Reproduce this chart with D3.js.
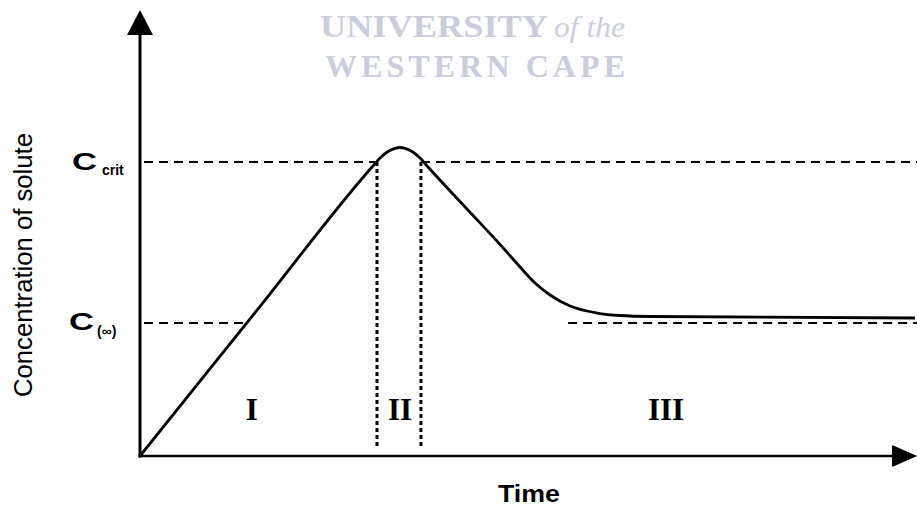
<!DOCTYPE html>
<html>
<head>
<meta charset="utf-8">
<script src="https://cdn.jsdelivr.net/npm/d3@7"></script>
<style>
  html, body { margin: 0; padding: 0; background: #fff; }
  svg { display: block; }
</style>
</head>
<body>
<svg id="chart" width="917" height="508"></svg>
<script>
// Concentration profile: rise, nucleation burst, then decay to the solubility level
const profileTime = [0, 14.93, 29.86, 30.89, 31.92, 32.82, 33.46, 34.11, 35.01, 36.04, 37.07,
                     41.96, 46.98, 48.91, 50.84, 52.77, 55.34, 58.82, 61.78, 65.64, 99.74];
const profileConc = [0, 32.40, 64.80, 66.82, 68.27, 68.99, 69.17, 68.99, 68.27, 66.82, 64.80,
                     55.61, 46.19, 42.38, 38.79, 36.10, 33.63, 32.06, 31.50, 31.28, 30.94];

// Reference levels
const cCrit = 65.9;
const cInf = 29.8;

// Phase boundaries (time) and phase labels
const phaseBounds = [30.5, 36.16];
const phaseLabels = ["I", "II", "III"];
const phaseLabelTime = [14.4, 33.46, 67.7];
const phaseLabelConc = 8.1;

// Dashed guide segments: [level, t start, t end]
const guideLevels = [cCrit, cCrit, cInf, cInf];
const guideStart = [0, 36.16, 0, 55.1];
const guideEnd = [30.5, 100, 13.74, 100];

const svg = d3.select("#chart");
const x = d3.scaleLinear().domain([0, 100]).range([140, 917]);
const y = d3.scaleLinear().domain([0, 100]).range([456, 10]);

// Watermark
const wm = svg.append("g").attr("fill", "#cbcddc").attr("font-family", "'Liberation Serif', 'DejaVu Serif', serif");
wm.append("text").attr("x", 320).attr("y", 37).attr("font-size", 32).attr("font-weight", "bold")
  .attr("textLength", 228).attr("lengthAdjust", "spacingAndGlyphs").text("UNIVERSITY");
wm.append("text").attr("x", 554).attr("y", 37).attr("font-size", 30).attr("font-style", "italic")
  .attr("textLength", 71).attr("lengthAdjust", "spacingAndGlyphs").text("of the");
wm.append("text").attr("x", 325).attr("y", 77).attr("font-size", 32).attr("font-weight", "bold")
  .attr("textLength", 300).attr("lengthAdjust", "spacing").text("WESTERN CAPE");

// Axes (no ticks) with arrowheads
const yAxis = d3.axisLeft(y).tickValues([]).tickSizeOuter(0);
const xAxis = d3.axisBottom(x).tickValues([]).tickSizeOuter(0);
svg.append("g").attr("transform", `translate(${x(0)},0)`).call(yAxis)
  .select(".domain").attr("stroke", "#000").attr("stroke-width", 3)
  .attr("d", `M0,${y(0) + 1.5}V${y(100) + 20}`);
svg.append("g").attr("transform", `translate(0,${y(0)})`).call(xAxis)
  .select(".domain").attr("stroke", "#000").attr("stroke-width", 2.5)
  .attr("d", `M${x(0) - 1.5},0H${x(100) - 20}`);

svg.append("path").attr("fill", "#000")
  .attr("d", `M${x(0)},${y(100)}L${x(0) + 13},${y(100) + 25}L${x(0) - 13},${y(100) + 25}Z`);
svg.append("path").attr("fill", "#000")
  .attr("d", `M${x(100)},${y(0)}L${x(100) - 25},${y(0) - 11}L${x(100) - 25},${y(0) + 11}Z`);

// Dashed guide lines
guideLevels.forEach((lv, i) => {
  svg.append("line")
    .attr("x1", x(guideStart[i]) + (guideStart[i] === 0 ? 4 : 0)).attr("x2", x(guideEnd[i]))
    .attr("y1", y(lv)).attr("y2", y(lv))
    .attr("stroke", "#000").attr("stroke-width", 2).attr("stroke-dasharray", "9,6");
});

// Dotted phase boundaries
phaseBounds.forEach(t => {
  svg.append("line")
    .attr("x1", x(t)).attr("x2", x(t))
    .attr("y1", y(cCrit)).attr("y2", y(1.8))
    .attr("stroke", "#000").attr("stroke-width", 3).attr("stroke-dasharray", "4,3");
});

// Profile curve
const line = d3.line().x((d, i) => x(profileTime[i])).y((d, i) => y(profileConc[i]))
  .curve(d3.curveMonotoneX);
svg.append("path").datum(profileTime).attr("d", line)
  .attr("fill", "none").attr("stroke", "#000").attr("stroke-width", 2.8)
  .attr("stroke-linejoin", "round");

// Phase labels
phaseLabels.forEach((lab, i) => {
  svg.append("text").attr("x", x(phaseLabelTime[i])).attr("y", y(phaseLabelConc))
    .attr("text-anchor", "middle").attr("font-family", "'Liberation Serif', serif")
    .attr("font-weight", "bold").attr("font-size", 31).text(lab);
});

// Level labels
const sans = "'Liberation Sans', Arial, sans-serif";
svg.append("text").attr("x", 72).attr("y", y(cCrit) + 8).attr("font-family", sans)
  .attr("font-size", 24).attr("font-weight", "bold")
  .attr("textLength", 25).attr("lengthAdjust", "spacingAndGlyphs").text("C");
svg.append("text").attr("x", 102).attr("y", y(cCrit) + 13).attr("font-family", sans)
  .attr("font-size", 14).attr("font-weight", "bold").text("crit");
svg.append("text").attr("x", 69).attr("y", y(cInf) + 7).attr("font-family", sans)
  .attr("font-size", 24).attr("font-weight", "bold")
  .attr("textLength", 25).attr("lengthAdjust", "spacingAndGlyphs").text("C");
svg.append("text").attr("x", 97).attr("y", y(cInf) + 13).attr("font-family", sans)
  .attr("font-size", 14).attr("font-weight", "bold").text("(\u221E)");

// Axis titles
svg.append("text").attr("transform", "translate(32,265) rotate(-90)")
  .attr("text-anchor", "middle").attr("font-family", sans).attr("font-size", 26)
  .attr("textLength", 264).attr("lengthAdjust", "spacingAndGlyphs")
  .text("Concentration of solute");
svg.append("text").attr("x", 498).attr("y", 502).attr("font-family", sans)
  .attr("font-size", 23).attr("font-weight", "bold")
  .attr("textLength", 62).attr("lengthAdjust", "spacingAndGlyphs").text("Time");
</script>
</body>
</html>
